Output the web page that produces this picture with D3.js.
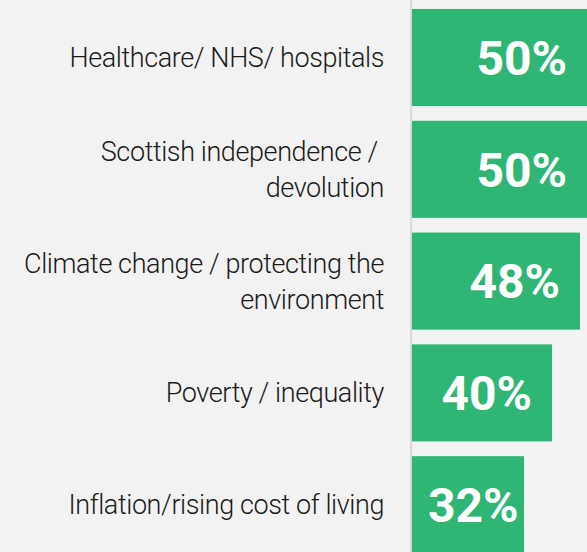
<!DOCTYPE html>
<html>
<head>
<meta charset="utf-8">
<script src="https://cdnjs.cloudflare.com/ajax/libs/d3/7.8.5/d3.min.js"></script>
<style>
  html, body { margin: 0; padding: 0; background: #f2f2f2; }
  svg { display: block; }
</style>
</head>
<body>
<div id="chart"></div>
<script>
// categories, one entry per bar, "\n" marks a line break in the label
const categories = [
  "Healthcare/ NHS/ hospitals",
  "Scottish independence / \ndevolution",
  "Climate change / protecting the\nenvironment",
  "Poverty / inequality",
  "Inflation/rising cost of living"
];
const values = [50, 50, 48, 40, 32];

const width = 587, height = 552;
const axisX = 412;

const svg = d3.select("#chart")
  .append("svg")
  .attr("width", width)
  .attr("height", height);

svg.append("rect")
  .attr("width", width)
  .attr("height", height)
  .attr("fill", "#f2f2f2");

// x scale: 0..50% maps from the axis line to the right edge
const x = d3.scaleLinear()
  .domain([0, 50])
  .range([axisX, width]);

const y = d3.scaleBand()
  .domain(categories)
  .range([9, 553.2])
  .paddingInner(0.132)
  .paddingOuter(0);

// vertical axis line
svg.append("line")
  .attr("x1", axisX - 1).attr("x2", axisX - 1)
  .attr("y1", 0).attr("y2", height)
  .attr("stroke", "#d9d9d9")
  .attr("stroke-width", 2);

// bars
svg.selectAll("rect.bar")
  .data(values)
  .enter()
  .append("rect")
  .attr("class", "bar")
  .attr("x", x(0))
  .attr("y", (d, i) => y(categories[i]))
  .attr("width", d => x(d) - x(0))
  .attr("height", y.bandwidth())
  .attr("fill", "#2fb674");

// value labels, right aligned inside the bar
const valueLabels = svg.selectAll("text.value")
  .data(values)
  .enter()
  .append("text")
  .attr("class", "value")
  .attr("y", (d, i) => y(categories[i]) + y.bandwidth() / 2)
  .attr("dy", "0.36em")
  .attr("text-anchor", "start")
  .style("font-family", "Roboto, sans-serif")
  .style("font-weight", "bold")
  .style("font-size", "48px")
  .style("fill", "#ffffff")
  .text(d => d + "%");

valueLabels.each(function (d) {
  const w = this.getComputedTextLength();
  let left = x(d) - 20 - w;
  if (left < x(0) + 16) left = x(0) + 16;
  d3.select(this).attr("x", left);
});

// category labels, right aligned to the left of the axis
const lineHeight = 36;
categories.forEach((c, i) => {
  const lines = c.split("\n");
  const cy = y(c) + y.bandwidth() / 2;
  const first = cy + 9.5 - (lines.length - 1) * lineHeight / 2;
  const t = svg.append("text")
    .attr("text-anchor", "end")
    .style("font-family", "Roboto, sans-serif")
    .style("font-weight", 300)
    .style("font-size", "27px")
    .style("letter-spacing", "-0.4px")
    .style("white-space", "pre")
    .style("fill", "#1a1a1a");
  lines.forEach((ln, j) => {
    t.append("tspan")
      .attr("x", 384)
      .attr("y", first + j * lineHeight)
      .text(ln);
  });
});
</script>
</body>
</html>
